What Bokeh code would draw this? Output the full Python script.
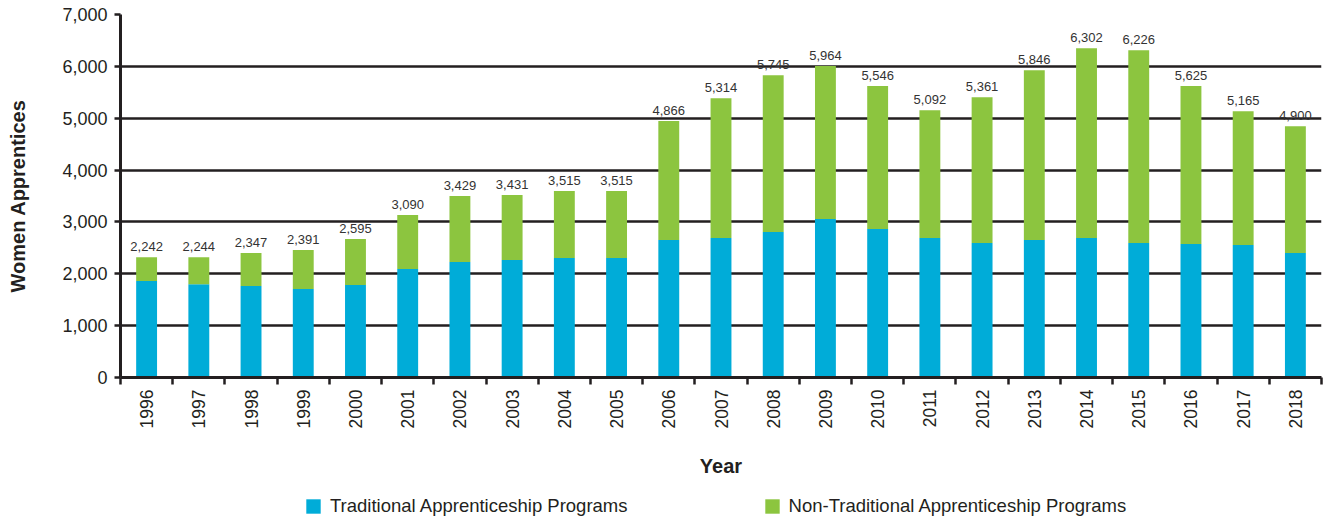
import math
from bokeh.plotting import figure
from bokeh.layouts import column
from bokeh.models import (ColumnDataSource, Range1d, FixedTicker, NumeralTickFormatter,
                          Legend, LegendItem, LabelSet)
from bokeh.core.properties import value
from bokeh.embed import file_html
from bokeh.resources import INLINE

years = ["1996", "1997", "1998", "1999", "2000", "2001", "2002", "2003", "2004", "2005",
         "2006", "2007", "2008", "2009", "2010", "2011", "2012", "2013", "2014", "2015",
         "2016", "2017", "2018"]
traditional = [1860, 1800, 1765, 1705, 1785, 2090, 2225, 2265, 2305, 2305,
               2650, 2690, 2805, 3055, 2865, 2690, 2595, 2650, 2690, 2595,
               2575, 2555, 2400]
non_traditional = [460, 520, 635, 755, 885, 1045, 1275, 1255, 1290, 1290,
                   2295, 2695, 3025, 2950, 2755, 2465, 2810, 3275, 3660, 3715,
                   3045, 2580, 2445]
total_labels = ["2,242", "2,244", "2,347", "2,391", "2,595", "3,090", "3,429", "3,431",
                "3,515", "3,515", "4,866", "5,314", "5,745", "5,964", "5,546", "5,092",
                "5,361", "5,846", "6,302", "6,226", "5,625", "5,165", "4,900"]
y_ticks = [0, 1000, 2000, 3000, 4000, 5000, 6000, 7000]
series_names = ["Traditional Apprenticeship Programs", "Non-Traditional Apprenticeship Programs"]
colors = ["#00acd8", "#8cc53f"]

INK = "#231f20"
FONT = "Liberation Sans"

xs = [i + 1 for i in range(len(years))]
tops = [a + b for a, b in zip(traditional, non_traditional)]
src = ColumnDataSource(dict(x=xs, trad=traditional, nontrad=non_traditional,
                            top=tops, label=total_labels))

p = figure(frame_width=1201, frame_height=363,
           x_range=Range1d(0.5, len(years) + 0.5), y_range=Range1d(0, 7000),
           output_backend="svg", toolbar_location=None,
           min_border_left=120, min_border_right=2, min_border_top=14, min_border_bottom=118)
p.outline_line_color = None
p.background_fill_color = "white"

rs = p.vbar_stack(["trad", "nontrad"], x="x", width=0.4, source=src,
                  color=colors, line_color=None)

labels = LabelSet(x="x", y="top", text="label", source=src, y_offset=6,
                  text_align="center", text_baseline="bottom",
                  text_font=value(FONT), text_font_size=value("13px"), text_color=value("#333333"))
p.add_layout(labels)

# grid
p.xgrid.visible = False
p.ygrid.grid_line_color = INK
p.ygrid.grid_line_width = 2.5
p.ygrid.ticker = FixedTicker(ticks=y_ticks)

# y axis
ya = p.yaxis[0]
ya.ticker = FixedTicker(ticks=y_ticks, minor_ticks=[])
ya.formatter = NumeralTickFormatter(format="0,0")
ya.axis_line_color = INK
ya.axis_line_width = 3
ya.major_tick_line_color = INK
ya.major_tick_line_width = 2.5
ya.major_tick_out = 6
ya.major_tick_in = 0
ya.minor_tick_line_color = None
ya.major_label_text_font = FONT
ya.major_label_text_font_size = "18px"
ya.major_label_text_color = INK
ya.major_label_standoff = 7
ya.axis_label = "Women Apprentices"
ya.axis_label_text_font = FONT
ya.axis_label_text_font_size = "20px"
ya.axis_label_text_font_style = "bold"
ya.axis_label_text_color = INK
ya.axis_label_standoff = 30

# x axis
xa = p.xaxis[0]
boundaries = [i + 0.5 for i in range(len(years) + 1)]
xa.ticker = FixedTicker(ticks=xs, minor_ticks=boundaries)
xa.major_label_overrides = {x: y for x, y in zip(xs, years)}
xa.axis_line_color = INK
xa.axis_line_width = 3
xa.major_tick_line_color = None
xa.major_tick_out = 7
xa.major_tick_in = 0
xa.minor_tick_line_color = INK
xa.minor_tick_line_width = 2.5
xa.minor_tick_out = 7
xa.minor_tick_in = 0
xa.major_label_orientation = math.pi / 2
xa.major_label_text_font = FONT
xa.major_label_text_font_size = "17.5px"
xa.major_label_text_color = INK
xa.major_label_standoff = 5
xa.axis_label = "Year"
xa.axis_label_text_font = FONT
xa.axis_label_text_font_size = "20px"
xa.axis_label_text_font_style = "bold"
xa.axis_label_text_color = INK
xa.axis_label_standoff = 24

# legend strip below the chart (zero-height proxy renderers far outside the visible range)
p2 = figure(width=1323, height=22, x_range=Range1d(0, 1), y_range=Range1d(0, 1),
            output_backend="svg", toolbar_location=None,
            x_axis_location=None, y_axis_location=None, min_border=0)
p2.outline_line_color = None
p2.grid.visible = False
leg_renderers = []
for c in colors:
    leg_renderers.append(p2.vbar(x="x", top="top", width=0.1,
                                 source=ColumnDataSource(dict(x=[5], top=[0])),
                                 fill_color=c, line_color=None))
legend = Legend(items=[LegendItem(label=n, renderers=[r], index=0)
                       for n, r in zip(series_names, leg_renderers)],
                orientation="horizontal", location=(184, 0),
                glyph_width=18, glyph_height=18, label_standoff=8, spacing=135,
                label_text_font=FONT, label_text_font_size="18.5px", label_text_color=INK,
                border_line_color=None, background_fill_alpha=0,
                padding=0, margin=0)
p2.add_layout(legend, "center")

layout = column(p, p2, spacing=0)
open("out.html", "w").write(file_html(layout, INLINE))
